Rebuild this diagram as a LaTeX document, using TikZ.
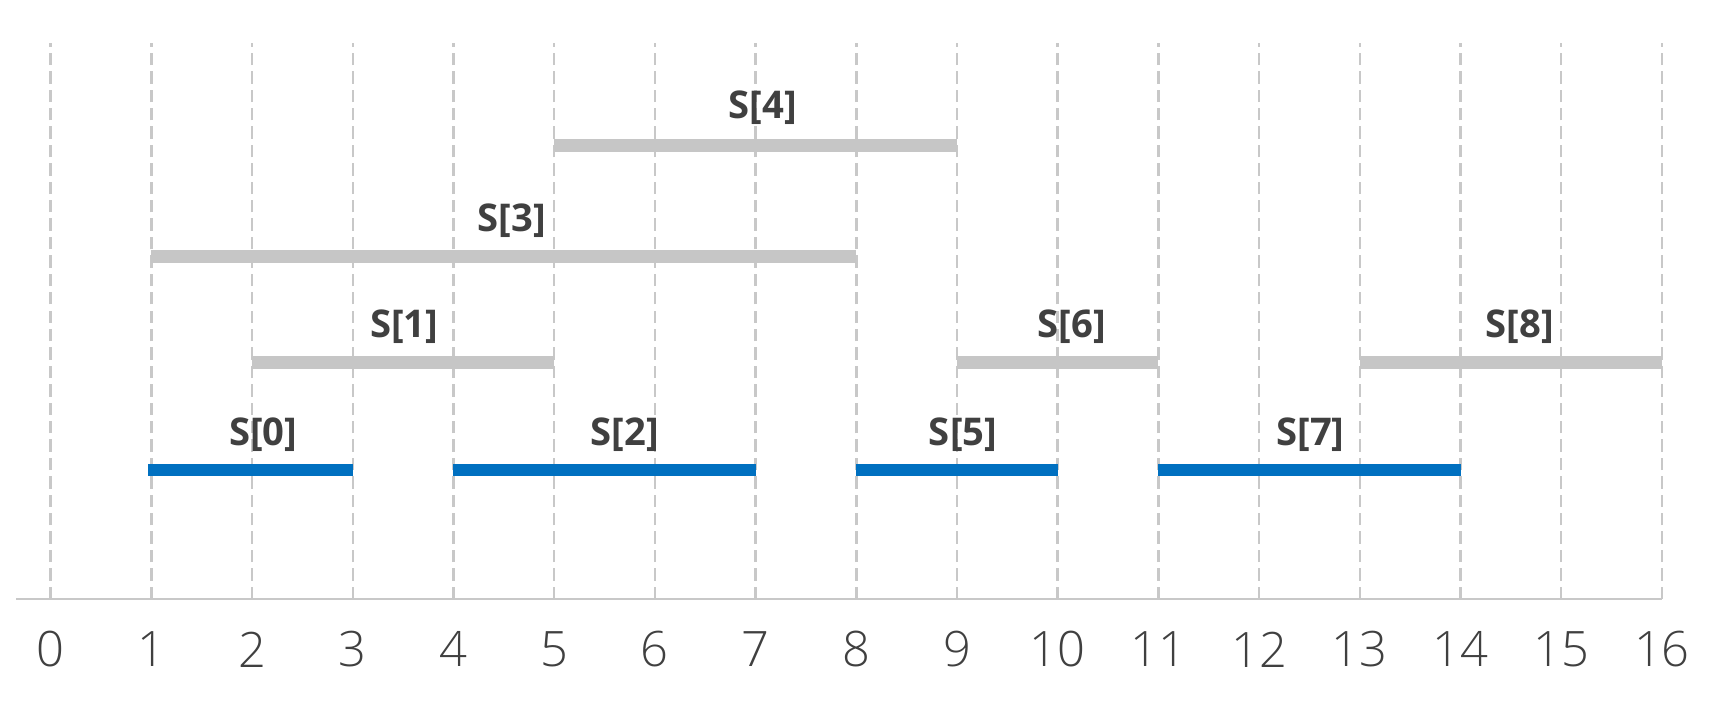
\documentclass[tikz,border=0pt]{standalone}
\usepackage{fontspec}
\setmainfont{Open Sans}
\newfontfamily\lightfont{Open Sans Light}
\definecolor{gridgray}{HTML}{C8C8C8}
\definecolor{bargray}{HTML}{C6C6C6}
\definecolor{barblue}{HTML}{0070C0}
\definecolor{txtgray}{HTML}{404040}
\tikzset{gridline/.style = {color = gridgray, line width = 0.7pt, dash pattern = on 3.5pt off 1.7pt}}
\tikzset{chosen/.style = {color = barblue, line width = 3.6pt}}
\tikzset{other/.style = {color = bargray, line width = 3.6pt}}
\tikzset{seglabel/.style = {text = txtgray, font = \fontsize{10.8}{12}\selectfont\bfseries}}
\tikzset{ticklabel/.style = {text = txtgray, font = \fontsize{13.8}{16}\selectfont\lightfont}}

\begin{document}
\begin{tikzpicture}
    \useasboundingbox (-0.503,-1.162) rectangle (16.557,5.948);
    % grid and axis
    \foreach \x in {0,...,16} {
        \draw [gridline] (\x,0) -- (\x,5.52);
        \node [ticklabel] (t\x) at (\x,-0.5) {\x};
    }
    \draw [color = gridgray, line width = 0.8pt] (-0.34,0) -- (16,0);
    %\draw [->] (0,0) -- (16.3,0);
    % segments
    \draw [chosen] (0.97,1.28) -- (3,1.28) node (s0) at (2.11,1.63) [seglabel] {S[0]};
    \draw [chosen] (4,1.28) -- (7,1.28) node (s2) at (5.70,1.63) [seglabel] {S[2]};
    \draw [chosen] (8,1.28) -- (10,1.28) node (s5) at (9.06,1.63) [seglabel] {S[5]};
    \draw [chosen] (11,1.28) -- (14,1.28) node (s7) at (12.51,1.63) [seglabel] {S[7]};
    \draw [other] (2,2.35) -- (5,2.35) node (s1) at (3.51,2.70) [seglabel] {S[1]};
    \draw [other] (9,2.35) -- (11,2.35) node (s6) at (10.14,2.70) [seglabel] {S[6]};
    \draw [other] (13,2.35) -- (16,2.35) node (s8) at (14.59,2.70) [seglabel] {S[8]};
    \draw [other] (1,3.40) -- (8,3.40) node (s3) at (4.58,3.76) [seglabel] {S[3]};
    \draw [other] (5,4.50) -- (9,4.50) node (s4) at (7.07,4.88) [seglabel] {S[4]};
\end{tikzpicture}
\end{document}
